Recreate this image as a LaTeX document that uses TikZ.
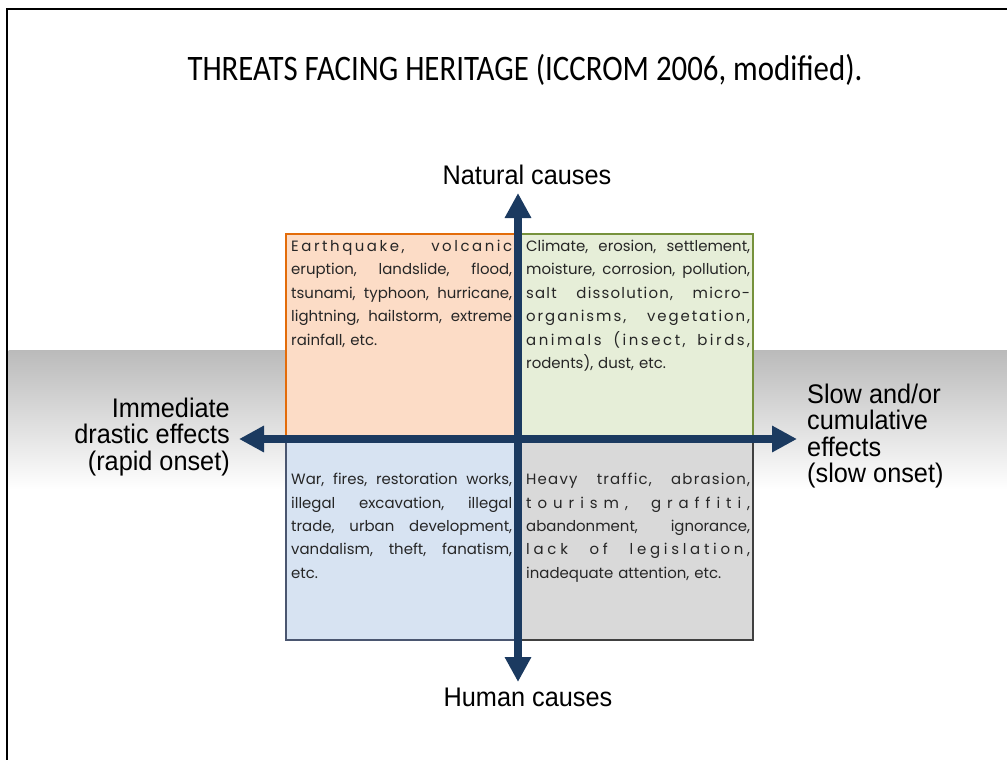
\documentclass[tikz,border=0pt]{standalone}
\usepackage{fontspec}
\setmainfont{Liberation Sans}
\newfontfamily\titlefont[FakeStretch=0.86]{Carlito}
\newfontfamily\labfont[FakeStretch=0.94]{Liberation Sans}
\newfontfamily\qfontfam{Poppins}
\newfontfamily\lsA[LetterSpace=8]{Poppins}
\newfontfamily\lsB[LetterSpace=13]{Poppins}
\newfontfamily\lsG[LetterSpace=17]{Poppins}
\newfontfamily\lsE[LetterSpace=25]{Poppins}
\newfontfamily\lsF[LetterSpace=40]{Poppins}
\newcommand\qfont{\qfontfam\fontsize{15}{23.5}\selectfont}
\newlength\qw
\newcommand\jl[1]{\hbox to \qw{#1}\par}
\newcommand\nl[1]{\hbox{#1}}
\usetikzlibrary{arrows.meta}
\definecolor{navy}{HTML}{1B3A60}
\definecolor{orline}{HTML}{E36C0A}
\definecolor{orfill}{HTML}{FCDCC6}
\definecolor{grline}{HTML}{76923C}
\definecolor{grfill}{HTML}{E6EED8}
\definecolor{blline}{HTML}{4A5670}
\definecolor{blfill}{HTML}{D7E3F2}
\definecolor{gyline}{HTML}{404040}
\definecolor{gyfill}{HTML}{D9D9D9}
\tikzset{
  quad/.style={draw, line width=2bp, inner sep=0, anchor=north west},
  qtext/.style={anchor=north west, inner sep=0, align=left, font=\qfont, text=black!85, text width=#1,
    execute at begin node={\setlength\qw{#1}}},
  lab/.style={font=\labfont\fontsize{27}{26.5}\selectfont, inner sep=0},
  axis/.style={draw=navy, line width=8bp, {Triangle[width=25bp,length=25bp]}-{Triangle[width=25bp,length=25bp]}}
}
\def\s{\hfill}
\begin{document}
\begin{tikzpicture}[x=1bp,y=-1bp]
\useasboundingbox (0,0) rectangle (1007,760);
% frame
\draw[line width=2.5bp] (7,760) -- (7,9) -- (1007,9);
% gray band
\shade[top color=black!27, bottom color=white] (8.5,350) rectangle (1007,490);
% title
\node[font=\titlefont\fontsize{36}{40}\selectfont, inner sep=0] (title) at (525,70) {THREATS FACING HERITAGE (ICCROM 2006, modified).};
% quadrants
\node[quad, draw=orline, fill=orfill, minimum width=233bp, minimum height=206bp] (tl) at (285,233) {};
\node[quad, draw=grline, fill=grfill, minimum width=234bp, minimum height=206bp] (tr) at (518,233) {};
\node[quad, draw=blline, fill=blfill, minimum width=233bp, minimum height=200bp] (bl) at (285,439) {};
\node[quad, draw=gyline, fill=gyfill, minimum width=234bp, minimum height=200bp] (br) at (518,439) {};
% quadrant texts
\node[qtext=221bp] (tltext) at (291,240) {\jl{\lsG Earthquake,\s volcanic}\jl{eruption,\s landslide,\s flood,}\jl{tsunami,\s typhoon,\s hurricane,}\jl{lightning,\s hailstorm,\s extreme}\nl{rainfall, etc.}};
\node[qtext=224bp] (trtext) at (526,240) {\jl{Climate,\s erosion,\s settlement,}\jl{moisture,\s corrosion,\s pollution,}\jl{\lsA salt\s dissolution,\s micro-}\jl{\lsB organisms,\s vegetation,}\jl{\lsG animals\s (insect,\s birds,}\nl{rodents), dust, etc.}};
\node[qtext=221bp] (bltext) at (291,473) {\jl{War,\s fires,\s restoration\s works,}\jl{illegal\s excavation,\s illegal}\jl{trade,\s urban\s development,}\jl{vandalism,\s theft,\s fanatism,}\nl{etc.}};
\node[qtext=224bp] (brtext) at (526,473) {\jl{\lsA Heavy\s traffic,\s abrasion,}\jl{\lsF tourism,\s graffiti,}\jl{abandonment,\s ignorance,}\jl{\lsE lack\s of\s legislation,}\nl{inadequate attention, etc.}};
% axes
\coordinate (ntip) at (518,193);
\coordinate (stip) at (518,682);
\coordinate (wtip) at (239,439);
\coordinate (etip) at (797,439);
\draw[axis] (stip) -- (ntip);
\draw[axis] (wtip) -- (etip);
% labels
\node[lab] (nat) at (527,175) {Natural causes};
\node[lab] (hum) at (528,697) {Human causes};
\node[lab, align=right, anchor=east] (left) at (230,437) {Immediate\\drastic effects\\(rapid onset)};
\node[lab, align=left, anchor=west] (right) at (807,436) {Slow and/or\\cumulative\\effects\\(slow onset)};
\end{tikzpicture}
\end{document}
